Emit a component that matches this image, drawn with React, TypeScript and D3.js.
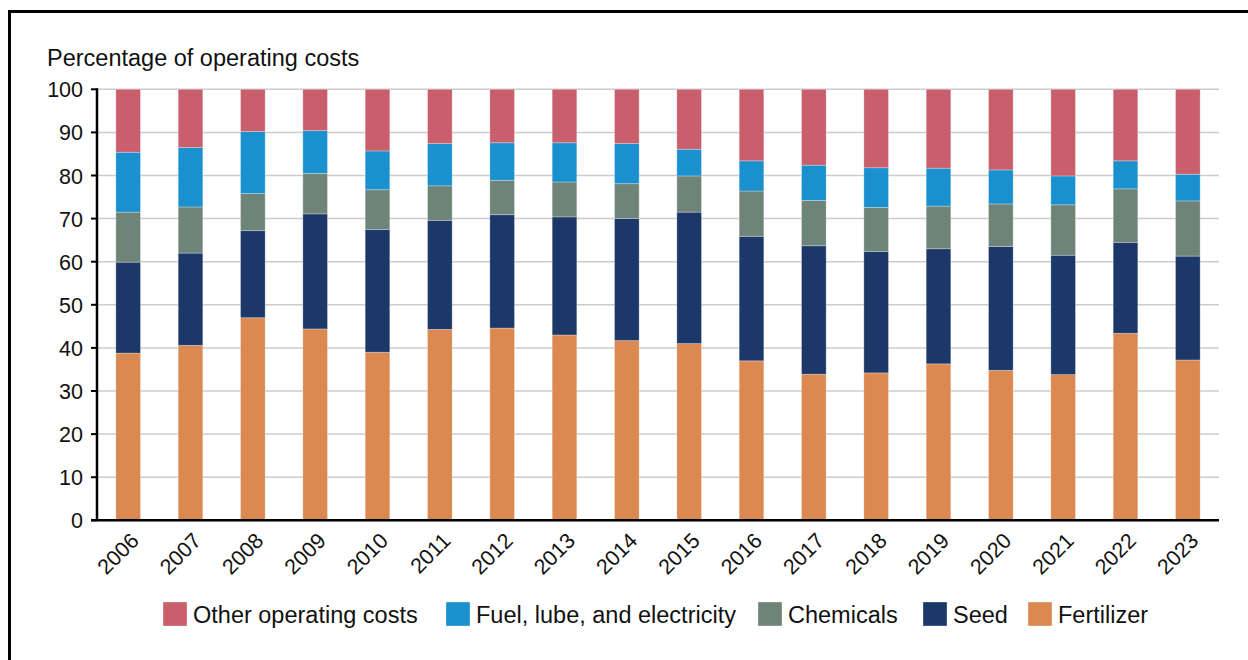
import React from "react";
import * as d3 from "d3";

const years = ["2006","2007","2008","2009","2010","2011","2012","2013","2014","2015","2016","2017","2018","2019","2020","2021","2022","2023"];
const fertilizer = [38.8,40.6,47.0,44.4,39.0,44.3,44.6,43.0,41.7,41.0,37.0,33.9,34.2,36.3,34.8,33.8,43.4,37.2];
const seed =       [21.1,21.4,20.2,26.7,28.5,25.3,26.3,27.4,28.3,30.5,28.9,29.8,28.2,26.7,28.7,27.7,21.1,24.1];
const chemicals =  [11.6,10.7,8.6,9.4,9.2,8.0,8.0,8.1,8.1,8.4,10.5,10.5,10.2,9.9,9.9,11.7,12.4,12.8];
const fuel =       [13.9,13.8,14.4,9.9,9.0,9.8,8.7,9.1,9.3,6.2,7.0,8.2,9.2,8.8,7.9,6.7,6.5,6.2];
const other =      [14.6,13.5,9.8,9.6,14.3,12.6,12.4,12.4,12.6,13.9,16.6,17.6,18.2,18.3,18.7,20.1,16.6,19.7];
const yTicks = [0,10,20,30,40,50,60,70,80,90,100];

const seriesKeys = ["Fertilizer","Seed","Chemicals","Fuel, lube, and electricity","Other operating costs"];
const seriesValues = [fertilizer, seed, chemicals, fuel, other];
const legendOrder = ["Other operating costs","Fuel, lube, and electricity","Chemicals","Seed","Fertilizer"];
const colors: Record<string,string> = {
  "Fertilizer": "#DB8951",
  "Seed": "#1B3869",
  "Chemicals": "#6E8478",
  "Fuel, lube, and electricity": "#1A90CF",
  "Other operating costs": "#C95F6D",
};

const W = 1248, H = 660;
const FONT = "'Liberation Sans', Arial, sans-serif";

export default function App() {
  const x = d3.scaleBand<string>().domain(years).range([97, 1219]).paddingInner(0.605).paddingOuter(0.3025);
  const y = d3.scaleLinear().domain([0, 100]).range([520.3, 89.3]);

  const rows = years.map((yr, i) => {
    const r: any = { year: yr };
    seriesKeys.forEach((k, j) => (r[k] = seriesValues[j][i]));
    return r;
  });
  const stacked = d3.stack().keys(seriesKeys)(rows);

  // legend layout
  const legendX = [163, 446, 758, 923, 1028];

  return (
    <svg width={W} height={H} style={{ position: "absolute", left: 0, top: 0, background: "#fff" }} fontFamily={FONT}>
      <rect x={0} y={0} width={W} height={H} fill="#fff" />
      <rect x={9.5} y={11.5} width={1300} height={800} fill="none" stroke="#000" strokeWidth={3} />
      <text x={47} y={66} fontSize={23.5} fill="#111">Percentage of operating costs</text>
      {/* gridlines */}
      {yTicks.filter(t => t > 0).map(t => (
        <line key={t} x1={97} x2={1219} y1={y(t)} y2={y(t)} stroke="#cccccc" strokeWidth={1.5} />
      ))}
      {/* bars */}
      {stacked.map((s) => (
        <g key={s.key} fill={colors[s.key]}>
          {s.map((d, i) => (
            <rect key={i} x={x(years[i])} width={x.bandwidth()} y={y(d[1])} height={y(d[0]) - y(d[1])}
              stroke="#ffffff" strokeOpacity={0.35} strokeWidth={0.8} />
          ))}
        </g>
      ))}
      {/* y axis */}
      <line x1={97} x2={97} y1={y(100) - 1} y2={y(0)} stroke="#000" strokeWidth={2.5} />
      {yTicks.map(t => (
        <g key={t}>
          <line x1={91} x2={97} y1={y(t)} y2={y(t)} stroke="#000" strokeWidth={2} />
          <text x={83} y={y(t) + 8} fontSize={21.5} textAnchor="end" fill="#111">{t}</text>
        </g>
      ))}
      {/* x axis */}
      <line x1={91} x2={1219} y1={y(0)} y2={y(0)} stroke="#000" strokeWidth={2.5} />
      {years.map(yr => {
        const cx = (x(yr) as number) + x.bandwidth() / 2;
        return (
          <text key={yr} transform={`translate(${cx + 12},${542}) rotate(-45)`} fontSize={21.5} textAnchor="end" fill="#111">{yr}</text>
        );
      })}
      {/* legend */}
      {legendOrder.map((k, i) => (
        <g key={k} transform={`translate(${legendX[i]},602)`}>
          <rect x={0} y={0} width={24} height={24} fill={colors[k]} stroke="#fff" strokeOpacity={0.4} strokeWidth={0.8} />
          <text x={30} y={20.5} fontSize={23.5} fill="#111">{k}</text>
        </g>
      ))}
    </svg>
  );
}
